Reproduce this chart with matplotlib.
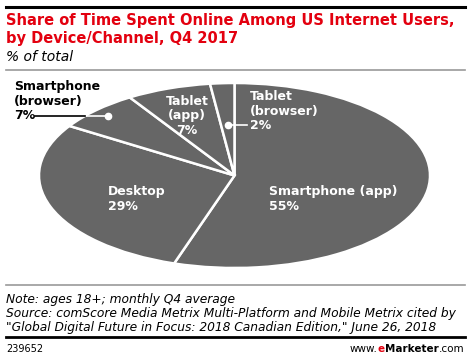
import numpy as np
import matplotlib
matplotlib.use("Agg")
import matplotlib.pyplot as plt
from matplotlib.lines import Line2D

# data
labels = ["Smartphone (app)", "Desktop", "Smartphone (browser)", "Tablet (app)", "Tablet (browser)"]
shares = [55, 29, 7, 7, 2]

W, H = 470, 359
fig = plt.figure(figsize=(W / 100, H / 100), dpi=100)
RED = "#e3000f"
GREY = "#666666"

def fx(px):
    return px / W

def fy(py):
    return 1 - py / H

# rules
fig.add_artist(Line2D([fx(6), fx(465)], [fy(7), fy(7)], color="black", lw=2.2))
fig.add_artist(Line2D([fx(6), fx(465)], [fy(70), fy(70)], color="#999999", lw=1.2))
fig.add_artist(Line2D([fx(6), fx(465)], [fy(285), fy(285)], color="#999999", lw=1.2))
fig.add_artist(Line2D([fx(6), fx(465)], [fy(337), fy(337)], color="black", lw=2.0))

# title
fig.text(fx(6), fy(21), "Share of Time Spent Online Among US Internet Users,",
         color=RED, fontsize=10.5, fontweight="bold", va="center")
fig.text(fx(6), fy(38), "by Device/Channel, Q4 2017",
         color=RED, fontsize=10.5, fontweight="bold", va="center")
fig.text(fx(6), fy(57), "% of total", fontsize=10, style="italic", va="center")

# pie (stretched to an ellipse)
ax = fig.add_axes([fx(39), fy(268), fx(430) - fx(39), fy(83) - fy(268)])
wedges, _ = ax.pie(shares, startangle=90, counterclock=False, colors=[GREY] * len(shares),
                   wedgeprops=dict(edgecolor="white", linewidth=1.8))
ax.set_aspect("auto")
ax.set_xlim(-1, 1)
ax.set_ylim(-1, 1)
ax.axis("off")

# inside labels
lab_kw = dict(color="white", fontsize=9, fontweight="bold", va="center", ha="left", linespacing=1.15)
fig.text(fx(269), fy(199), "Smartphone (app)\n55%", **lab_kw)
fig.text(fx(108), fy(199), "Desktop\n29%", **lab_kw)
fig.text(fx(187), fy(116), "Tablet\n(app)\n7%", color="white", fontsize=9, fontweight="bold",
         va="center", ha="center", linespacing=1.15)
fig.text(fx(250), fy(111), "Tablet\n(browser)\n2%", **lab_kw)

# outside label smartphone (browser)
fig.text(fx(14), fy(101), "Smartphone\n(browser)\n7%", color="black", fontsize=9,
         fontweight="bold", va="center", ha="left", linespacing=1.15)

# dots at wedge mid angles
cum = np.cumsum([0] + shares)
def mid_point(i, r):
    frac = (cum[i] + cum[i + 1]) / 2 / 100
    ang = np.deg2rad(90 - 360 * frac)
    return r * np.cos(ang), r * np.sin(ang)

# smartphone browser dot + leader
bx, by = mid_point(2, 0.915)
ax.plot([bx], [by], "o", color="white", ms=4.5, zorder=5)
edge_x = -np.sqrt(1 - by ** 2)
ax.plot([edge_x, bx], [by, by], color="white", lw=1.2, zorder=4)
x_text = (35 - 39) / (430 - 39) * 2 - 1
ax.plot([x_text, edge_x], [by, by], color="black", lw=1.2, clip_on=False, zorder=4)

# tablet browser dot + leader
tx, ty = mid_point(4, 0.55)
ax.plot([tx], [ty], "o", color="white", ms=4.5, zorder=5)
x_end = (247 - 39) / (430 - 39) * 2 - 1
ax.plot([tx, x_end], [ty, ty], color="white", lw=1.2, zorder=4)

# footnotes
fig.text(fx(6), fy(300), "Note: ages 18+; monthly Q4 average", fontsize=8.8, style="italic", va="center")
fig.text(fx(6), fy(314), "Source: comScore Media Metrix Multi-Platform and Mobile Metrix cited by",
         fontsize=8.8, style="italic", va="center")
fig.text(fx(6), fy(328), "\"Global Digital Future in Focus: 2018 Canadian Edition,\" June 26, 2018",
         fontsize=8.8, style="italic", va="center")
fig.text(fx(6), fy(349), "239652", fontsize=7, va="center")

t1 = fig.text(fx(464), fy(349), ".com", fontsize=7.5, va="center", ha="right")
a2 = fig.add_artist(plt.Annotation("Marketer", xy=(0, 0), xycoords=t1, ha="right", va="bottom",
                                   fontsize=7.5, fontweight="bold"))
a3 = fig.add_artist(plt.Annotation("e", xy=(0, 0), xycoords=a2, ha="right", va="bottom",
                                   fontsize=7.5, fontweight="bold", color=RED))
fig.add_artist(plt.Annotation("www.", xy=(0, 0), xycoords=a3, ha="right", va="bottom",
                              fontsize=7.5))

fig.savefig("out.png", dpi=100)
